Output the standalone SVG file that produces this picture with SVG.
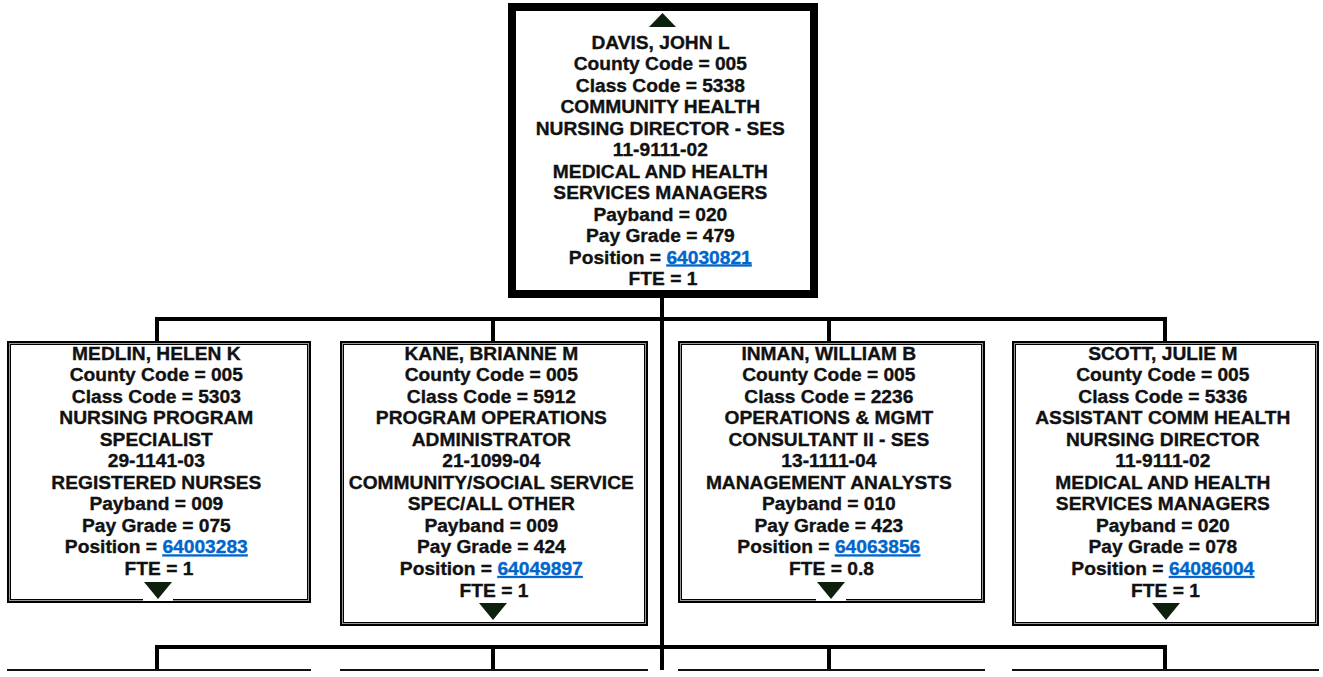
<svg xmlns="http://www.w3.org/2000/svg" width="1323" height="677" viewBox="0 0 1323 677">
  <style>
    .t { font-family: "Liberation Sans", Arial, sans-serif; font-weight: bold; font-size: 19.2px; fill: #111; stroke: #111; stroke-width: 0.35; text-anchor: middle; }
    .lnk { fill: #0066cc; stroke: #0066cc; text-decoration: underline; }
    .top { fill: #fff; stroke: #000; stroke-width: 8; }
    .o { fill: #fff; stroke: #000; stroke-width: 4; }
    .i { fill: none; stroke: #9a9a9a; stroke-width: 1; }
    .tri { fill: #0d1f0d; }
    .wire { fill: none; stroke: #000; stroke-width: 4; stroke-linejoin: miter; }
    .edge { fill: none; stroke: #111; stroke-width: 2; }
  </style>

  <!-- connectors -->
  <g id="connectors">
    <path class="wire" d="M662,298 V670"/>
    <path class="wire" d="M157,341 V319 H1165 V341"/>
    <path class="wire" d="M493,319 V341 M829,319 V341"/>
    <path class="wire" d="M157,669 V647 H1165 V669"/>
    <path class="wire" d="M493,647 V669 M829,647 V669"/>
  </g>

  <!-- top edges of the next level of boxes -->
  <g id="next-level">
    <path class="edge" d="M7,670 H311 M340,670 H648 M678,670 H985 M1012,670 H1319"/>
  </g>

  <!-- director -->
  <g id="davis">
    <rect class="top" x="512" y="7" width="302" height="287"/>
    <polygon class="tri" points="649,27 676,27 662.5,13"/>
    <text class="t">
      <tspan x="663" y="49">DAVIS, JOHN L</tspan>
      <tspan x="663" dy="21.45">County Code = 005</tspan>
      <tspan x="663" dy="21.45">Class Code = 5338</tspan>
      <tspan x="663" dy="21.45">COMMUNITY HEALTH</tspan>
      <tspan x="663" dy="21.45">NURSING DIRECTOR - SES</tspan>
      <tspan x="663" dy="21.45">11-9111-02</tspan>
      <tspan x="663" dy="21.45">MEDICAL AND HEALTH</tspan>
      <tspan x="663" dy="21.45">SERVICES MANAGERS</tspan>
      <tspan x="663" dy="21.45">Payband = 020</tspan>
      <tspan x="663" dy="21.45">Pay Grade = 479</tspan>
      <tspan x="663" dy="21.45">Position = <tspan class="lnk">64030821</tspan></tspan>
      <tspan x="663" dy="21.45">FTE = 1</tspan>
    </text>
  </g>

  <!-- staff -->
  <g id="medlin">
    <rect class="o" x="9" y="343" width="300" height="258"/>
    <rect class="i" x="9.5" y="343.5" width="299" height="257"/>
    <text class="t">
      <tspan x="159" y="359.5">MEDLIN, HELEN K</tspan>
      <tspan x="159" dy="21.55">County Code = 005</tspan>
      <tspan x="159" dy="21.55">Class Code = 5303</tspan>
      <tspan x="159" dy="21.55">NURSING PROGRAM</tspan>
      <tspan x="159" dy="21.55">SPECIALIST</tspan>
      <tspan x="159" dy="21.55">29-1141-03</tspan>
      <tspan x="159" dy="21.55">REGISTERED NURSES</tspan>
      <tspan x="159" dy="21.55">Payband = 009</tspan>
      <tspan x="159" dy="21.55">Pay Grade = 075</tspan>
      <tspan x="159" dy="21.55">Position = <tspan class="lnk">64003283</tspan></tspan>
      <tspan x="159" dy="21.55">FTE = 1</tspan>
    </text>
    <rect x="143" y="580" width="30" height="21" fill="#fff"/>
    <polygon class="tri" points="144,582 172,582 158,599"/>
  </g>

  <g id="kane">
    <rect class="o" x="342" y="343" width="304" height="281"/>
    <rect class="i" x="342.5" y="343.5" width="303" height="280"/>
    <text class="t">
      <tspan x="494" y="359.5">KANE, BRIANNE M</tspan>
      <tspan x="494" dy="21.55">County Code = 005</tspan>
      <tspan x="494" dy="21.55">Class Code = 5912</tspan>
      <tspan x="494" dy="21.55">PROGRAM OPERATIONS</tspan>
      <tspan x="494" dy="21.55">ADMINISTRATOR</tspan>
      <tspan x="494" dy="21.55">21-1099-04</tspan>
      <tspan x="494" dy="21.55">COMMUNITY/SOCIAL SERVICE</tspan>
      <tspan x="494" dy="21.55">SPEC/ALL OTHER</tspan>
      <tspan x="494" dy="21.55">Payband = 009</tspan>
      <tspan x="494" dy="21.55">Pay Grade = 424</tspan>
      <tspan x="494" dy="21.55">Position = <tspan class="lnk">64049897</tspan></tspan>
      <tspan x="494" dy="21.55">FTE = 1</tspan>
    </text>
    <polygon class="tri" points="479,603 507,603 493,620"/>
  </g>

  <g id="inman">
    <rect class="o" x="680" y="343" width="303" height="258"/>
    <rect class="i" x="680.5" y="343.5" width="302" height="257"/>
    <text class="t">
      <tspan x="831.5" y="359.5">INMAN, WILLIAM B</tspan>
      <tspan x="831.5" dy="21.55">County Code = 005</tspan>
      <tspan x="831.5" dy="21.55">Class Code = 2236</tspan>
      <tspan x="831.5" dy="21.55">OPERATIONS &amp; MGMT</tspan>
      <tspan x="831.5" dy="21.55">CONSULTANT II - SES</tspan>
      <tspan x="831.5" dy="21.55">13-1111-04</tspan>
      <tspan x="831.5" dy="21.55">MANAGEMENT ANALYSTS</tspan>
      <tspan x="831.5" dy="21.55">Payband = 010</tspan>
      <tspan x="831.5" dy="21.55">Pay Grade = 423</tspan>
      <tspan x="831.5" dy="21.55">Position = <tspan class="lnk">64063856</tspan></tspan>
      <tspan x="831.5" dy="21.55">FTE = 0.8</tspan>
    </text>
    <rect x="816" y="580" width="30" height="21" fill="#fff"/>
    <polygon class="tri" points="817,582 845,582 831,599"/>
  </g>

  <g id="scott">
    <rect class="o" x="1014" y="343" width="303" height="281"/>
    <rect class="i" x="1014.5" y="343.5" width="302" height="280"/>
    <text class="t">
      <tspan x="1165.5" y="359.5">SCOTT, JULIE M</tspan>
      <tspan x="1165.5" dy="21.55">County Code = 005</tspan>
      <tspan x="1165.5" dy="21.55">Class Code = 5336</tspan>
      <tspan x="1165.5" dy="21.55">ASSISTANT COMM HEALTH</tspan>
      <tspan x="1165.5" dy="21.55">NURSING DIRECTOR</tspan>
      <tspan x="1165.5" dy="21.55">11-9111-02</tspan>
      <tspan x="1165.5" dy="21.55">MEDICAL AND HEALTH</tspan>
      <tspan x="1165.5" dy="21.55">SERVICES MANAGERS</tspan>
      <tspan x="1165.5" dy="21.55">Payband = 020</tspan>
      <tspan x="1165.5" dy="21.55">Pay Grade = 078</tspan>
      <tspan x="1165.5" dy="21.55">Position = <tspan class="lnk">64086004</tspan></tspan>
      <tspan x="1165.5" dy="21.55">FTE = 1</tspan>
    </text>
    <polygon class="tri" points="1152,603 1180,603 1166,620"/>
  </g>
</svg>
